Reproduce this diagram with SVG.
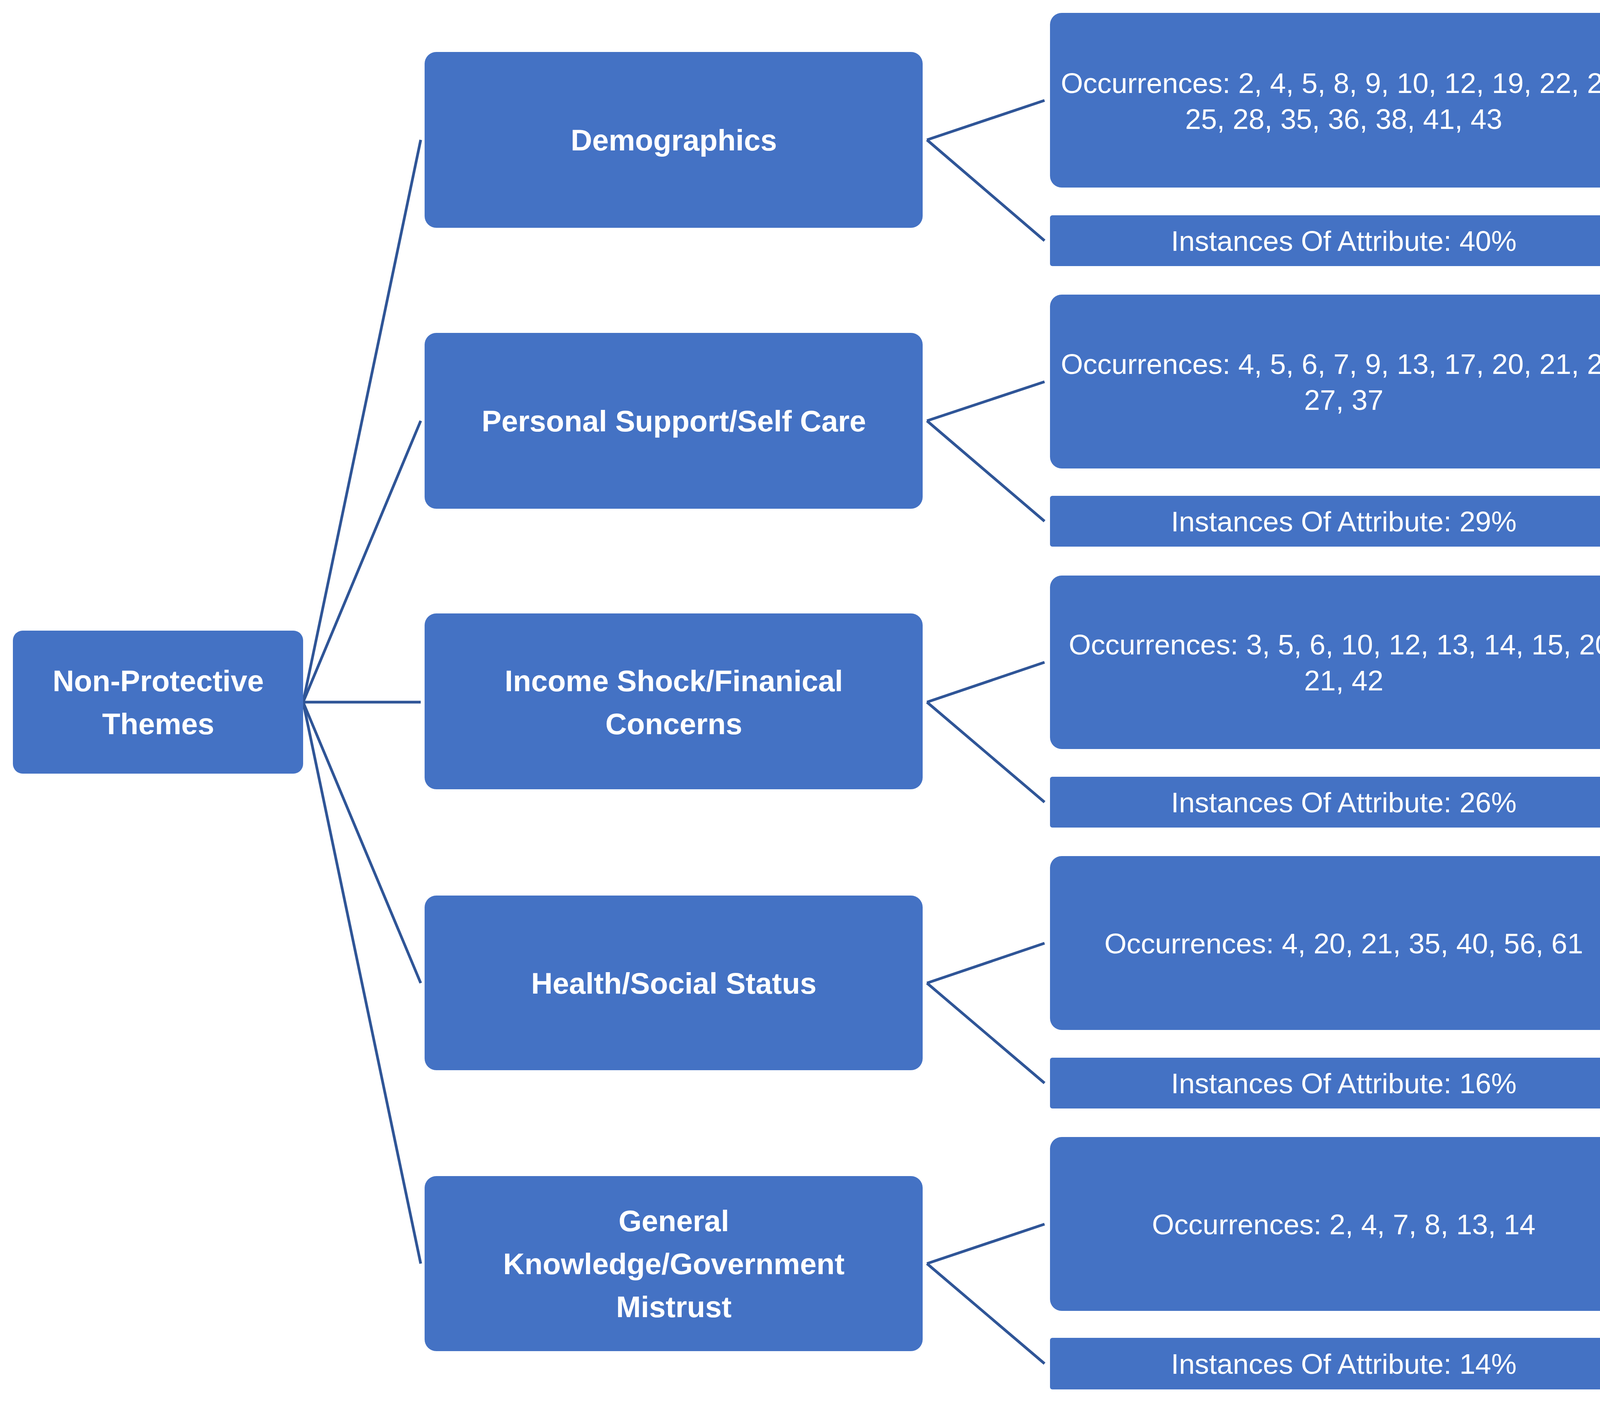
<svg xmlns="http://www.w3.org/2000/svg" width="4250" height="3601" viewBox="0 0 4250 3601">
<style>
.b{fill:#4472C4}
.t{font-family:"Liberation Sans",Arial,sans-serif;fill:#fff;text-anchor:middle;dominant-baseline:central}
.h{font-size:76px;font-weight:bold}
.s{font-size:73px}
#c line{stroke:#2F5597;stroke-width:7}
</style>
<rect width="4250" height="3601" fill="#fff"/>
<g id="c">
<line x1="776" y1="1797" x2="1077" y2="358"/>
<line x1="776" y1="1797" x2="1077" y2="1077"/>
<line x1="776" y1="1797" x2="1077" y2="1797"/>
<line x1="776" y1="1797" x2="1077" y2="2516"/>
<line x1="776" y1="1797" x2="1077" y2="3234"/>
<line x1="2373" y1="358" x2="2674" y2="257"/><line x1="2373" y1="358" x2="2674" y2="616"/>
<line x1="2373" y1="1077" x2="2674" y2="977"/><line x1="2373" y1="1077" x2="2674" y2="1334"/>
<line x1="2373" y1="1797" x2="2674" y2="1695"/><line x1="2373" y1="1797" x2="2674" y2="2053"/>
<line x1="2373" y1="2516" x2="2674" y2="2414"/><line x1="2373" y1="2516" x2="2674" y2="2772"/>
<line x1="2373" y1="3234" x2="2674" y2="3133"/><line x1="2373" y1="3234" x2="2674" y2="3490"/>
</g>
<g id="root"><rect class="b" x="33" y="1614" width="743" height="366" rx="25"/><text class="t h" x="405" y="1742">Non-Protective</text><text class="t h" x="405" y="1852">Themes</text></g>
<g id="m1"><rect class="b" x="1087" y="133" width="1275" height="450" rx="30"/><text class="t h" x="1725" y="358">Demographics</text></g>
<g id="m2"><rect class="b" x="1087" y="852" width="1275" height="450" rx="30"/><text class="t h" x="1725" y="1077">Personal Support/Self Care</text></g>
<g id="m3"><rect class="b" x="1087" y="1570" width="1275" height="450" rx="30"/><text class="t h" x="1725" y="1742">Income Shock/Finanical</text><text class="t h" x="1725" y="1852">Concerns</text></g>
<g id="m4"><rect class="b" x="1087" y="2292" width="1275" height="447" rx="30"/><text class="t h" x="1725" y="2516">Health/Social Status</text></g>
<g id="m5"><rect class="b" x="1087" y="3010" width="1275" height="448" rx="30"/><text class="t h" x="1725" y="3124">General</text><text class="t h" x="1725" y="3234">Knowledge/Government</text><text class="t h" x="1725" y="3344">Mistrust</text></g>
<g id="o1"><rect class="b" x="2688" y="33" width="1505" height="447" rx="30"/><text class="t s" x="3440" y="212">Occurrences: 2, 4, 5, 8, 9, 10, 12, 19, 22, 23,</text><text class="t s" x="3440" y="304">25, 28, 35, 36, 38, 41, 43</text></g>
<g id="i1"><rect class="b" x="2688" y="551" width="1505" height="130" rx="6"/><text class="t s" x="3440" y="616">Instances Of Attribute:  40%</text></g>
<g id="o2"><rect class="b" x="2688" y="754" width="1505" height="445" rx="30"/><text class="t s" x="3440" y="931">Occurrences: 4, 5, 6, 7, 9, 13, 17, 20, 21, 26,</text><text class="t s" x="3440" y="1023">27, 37</text></g>
<g id="i2"><rect class="b" x="2688" y="1269" width="1505" height="130" rx="6"/><text class="t s" x="3440" y="1334">Instances Of Attribute:  29%</text></g>
<g id="o3"><rect class="b" x="2688" y="1473" width="1505" height="444" rx="30"/><text class="t s" x="3440" y="1649">Occurrences: 3, 5, 6, 10, 12, 13, 14, 15, 20,</text><text class="t s" x="3440" y="1741">21, 42</text></g>
<g id="i3"><rect class="b" x="2688" y="1988" width="1505" height="130" rx="6"/><text class="t s" x="3440" y="2053">Instances Of Attribute:  26%</text></g>
<g id="o4"><rect class="b" x="2688" y="2191" width="1505" height="445" rx="30"/><text class="t s" x="3440" y="2414">Occurrences: 4, 20, 21, 35, 40, 56, 61</text></g>
<g id="i4"><rect class="b" x="2688" y="2707" width="1505" height="130" rx="6"/><text class="t s" x="3440" y="2772">Instances Of Attribute:  16%</text></g>
<g id="o5"><rect class="b" x="2688" y="2910" width="1505" height="445" rx="30"/><text class="t s" x="3440" y="3133">Occurrences: 2, 4, 7, 8, 13, 14</text></g>
<g id="i5"><rect class="b" x="2688" y="3424" width="1505" height="132" rx="6"/><text class="t s" x="3440" y="3490">Instances Of Attribute:  14%</text></g>
</svg>
